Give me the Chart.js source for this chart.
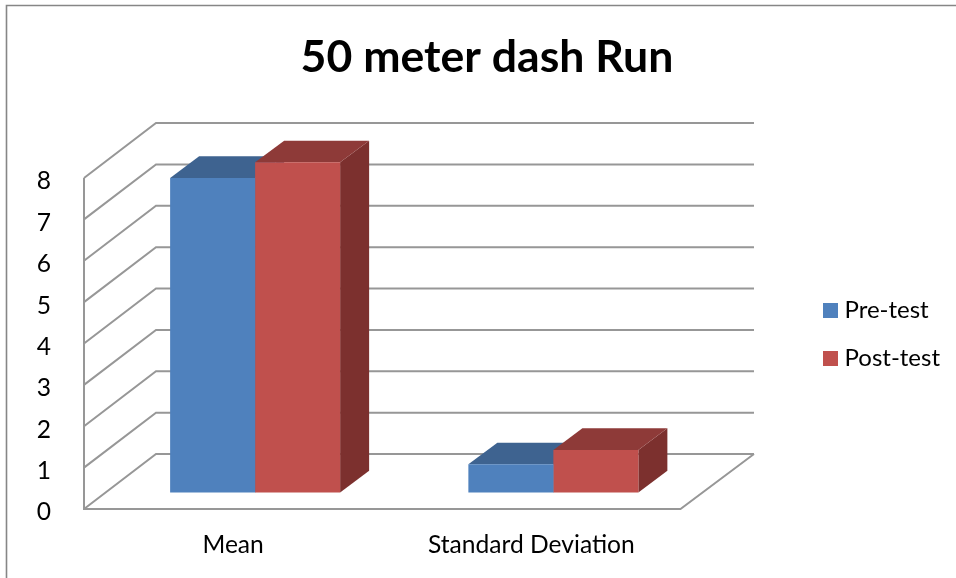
<!DOCTYPE html>
<html>
<head>
<meta charset="utf-8">
<title>50 meter dash Run</title>
<script src="https://cdn.jsdelivr.net/npm/chart.js@4"></script>
<style>
  html, body { margin: 0; padding: 0; background: #fff; }
  #wrap { width: 956px; height: 578px; position: relative; }
</style>
</head>
<body>
<div id="wrap"><canvas id="grafico" width="956" height="578"></canvas></div>
<script>
const categorias = ['Mean', 'Standard Deviation'];
const preTest = [7.6, 0.68];
const postTest = [7.98, 1.03];
const marcasY = [0, 1, 2, 3, 4, 5, 6, 7, 8];

const FUENTE = 'Lato, Carlito, sans-serif';
const GRIS = '#979797';
const COLORES = ['#4f81bd', '#c0504d'];
// desplazamiento de la pared del fondo y de la cara frontal de las barras
const PARED = { dx: 72, dy: -55, extra: 1.5 };
const BARRA = { dx: 22, dy: -16.5 };
const FONDO = { dx: 29, dy: -21.7 };
const caras = [
    { techo: '#3e6390', lado: '#355a85' },
    { techo: '#8e3a38', lado: '#7c302e' }
];

function linea(ctx, puntos, color, ancho) {
    ctx.beginPath();
    puntos.forEach((p, i) => i ? ctx.lineTo(p[0], p[1]) : ctx.moveTo(p[0], p[1]));
    ctx.strokeStyle = color;
    ctx.lineWidth = ancho;
    ctx.stroke();
}

function poligono(ctx, puntos, color) {
    ctx.beginPath();
    puntos.forEach((p, i) => i ? ctx.lineTo(p[0], p[1]) : ctx.moveTo(p[0], p[1]));
    ctx.closePath();
    ctx.fillStyle = color;
    ctx.fill();
}

// cuadrito de la leyenda, mas pegado al texto que el que trae Chart.js
function cuadrito(color) {
    const c = document.createElement('canvas');
    c.width = 15;
    c.height = 15;
    const g = c.getContext('2d');
    g.fillStyle = color;
    g.fillRect(0, 0, 15, 15);
    return c;
}

const vista3d = {
    id: 'vista3d',
    afterLayout(chart) {
        // leyenda y titulo donde estan en la imagen
        const l = chart.legend;
        const ancho = l.right - l.left;
        l.left = 803.5;
        l.right = l.left + ancho;
        const alto = l.bottom - l.top;
        l.top = 334.5 - alto / 2;
        l.bottom = l.top + alto;
        chart.titleBlock.left = 0;
        chart.titleBlock.right = 974;
    },
    beforeDatasetsDraw(chart) {
        const ctx = chart.ctx;
        const { left, right } = chart.chartArea;
        const y = chart.scales.y;
        const y0 = y.getPixelForValue(0);
        const fin = right + PARED.dx + PARED.extra;

        // marco de la imagen
        linea(ctx, [[6.5, 578], [6.5, 5.5], [956, 5.5]], '#868686', 1.6);

        // paredes
        marcasY.forEach(v => {
            const py = y.getPixelForValue(v);
            linea(ctx, [[left, py], [left + PARED.dx, py + PARED.dy], [fin, py + PARED.dy]], GRIS, 2);
        });
        linea(ctx, [[left, y.getPixelForValue(8)], [left, y0], [right, y0], [fin, y0 + PARED.dy]], GRIS, 2);

        // caras de arriba y del lado, antes que el frente
        [0, 1].forEach(d => {
            chart.getDatasetMeta(d).data.forEach(b => {
                const izq = b.x - b.width / 2 + BARRA.dx;
                const der = b.x + b.width / 2 + BARRA.dx;
                const arr = b.y + BARRA.dy;
                const aba = b.base + BARRA.dy;
                poligono(ctx, [[der, arr], [der + FONDO.dx, arr + FONDO.dy], [der + FONDO.dx, aba + FONDO.dy], [der, aba]], caras[d].lado);
                poligono(ctx, [[izq, arr], [izq + FONDO.dx, arr + FONDO.dy], [der + FONDO.dx, arr + FONDO.dy], [der, arr]], caras[d].techo);
            });
        });

        ctx.save();
        ctx.translate(BARRA.dx, BARRA.dy);
    },
    afterDatasetsDraw(chart) {
        chart.ctx.restore();
    }
};

document.addEventListener('DOMContentLoaded', function() {
    const ctx = document.getElementById('grafico').getContext('2d');

    new Chart(ctx, {
        type: 'bar',
        data: {
            labels: categorias,
            datasets: [
                { label: 'Pre-test', data: preTest, backgroundColor: COLORES[0], clip: false },
                { label: 'Post-test', data: postTest, backgroundColor: COLORES[1], clip: false }
            ]
        },
        options: {
            responsive: false,
            animation: false,
            layout: { padding: { left: 0, right: 129, top: 0, bottom: 0 } },
            datasets: { bar: { categoryPercentage: 0.57, barPercentage: 1 } },
            plugins: {
                tooltip: { enabled: false },
                title: {
                    display: true,
                    text: '50 meter dash Run',
                    color: '#000',
                    font: { family: FUENTE, size: 44.6, weight: 'bold' },
                    padding: { top: 31, bottom: 93.5 }
                },
                legend: {
                    position: 'right',
                    labels: {
                        usePointStyle: true,
                        pointStyleWidth: 5,
                        padding: 24,
                        color: '#000',
                        font: { family: FUENTE, size: 24 },
                        generateLabels(chart) {
                            const items = Chart.defaults.plugins.legend.labels.generateLabels(chart);
                            items.forEach((it, i) => { it.pointStyle = cuadrito(COLORES[i]); });
                            return items;
                        }
                    }
                }
            },
            scales: {
                x: {
                    grid: { display: false },
                    border: { display: false },
                    ticks: { color: '#000', padding: 13, font: { family: FUENTE, size: 24.6 } },
                    afterFit(scale) { scale.height = 69; }
                },
                y: {
                    min: 0,
                    max: 8,
                    grid: { display: false },
                    border: { display: false },
                    ticks: { stepSize: 1, color: '#000', padding: 25, labelOffset: 3.5, font: { family: FUENTE, size: 24.6 } },
                    afterFit(scale) { scale.width = 84; }
                }
            }
        },
        plugins: [vista3d]
    });
});
</script>
</body>
</html>
